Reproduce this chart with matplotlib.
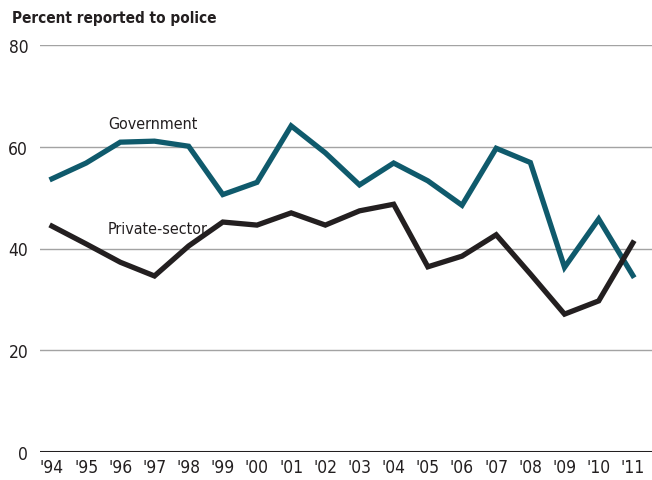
#!/usr/bin/env python3
"""Percent of incidents reported to police, government vs private-sector."""

import matplotlib
matplotlib.use("Agg")
import matplotlib.pyplot as plt

# Data
years = ["'94", "'95", "'96", "'97", "'98", "'99", "'00", "'01", "'02",
         "'03", "'04", "'05", "'06", "'07", "'08", "'09", "'10", "'11"]
government = [53.7, 56.8, 60.9, 61.1, 60.1, 50.6, 53.0, 64.1, 58.8,
              52.5, 56.8, 53.3, 48.5, 59.7, 56.9, 36.3, 45.8, 34.7]
private_sector = [44.4, 40.9, 37.3, 34.6, 40.5, 45.2, 44.6, 47.0, 44.6,
                  47.4, 48.7, 36.4, 38.5, 42.7, 35.0, 27.1, 29.7, 41.1]
y_ticks = [0, 20, 40, 60, 80]

GOV_COLOR = "#0f5a6c"
PRIV_COLOR = "#231f20"

plt.rcParams["font.family"] = ["DejaVu Sans"]
plt.rcParams["font.stretch"] = "condensed"

fig = plt.figure(figsize=(6.52, 4.81), dpi=100)
ax = fig.add_axes([40 / 652, 28 / 481, 612 / 652, 407 / 481])

x = list(range(len(years)))
ax.plot(x, government, color=GOV_COLOR, lw=3.8, solid_joinstyle="miter", zorder=3)
ax.plot(x, private_sector, color=PRIV_COLOR, lw=3.8, solid_joinstyle="miter", zorder=3)

ax.set_xlim(-0.35, 17.56)
ax.set_ylim(0, 80)

# Gridlines
for v in y_ticks[1:]:
    ax.axhline(v, color="#a3a3a3", lw=1.0, zorder=1)
ax.axhline(0, color="#231f20", lw=2.2, zorder=2)

for s in ax.spines.values():
    s.set_visible(False)

ax.set_yticks(y_ticks)
ax.set_yticklabels([str(v) for v in y_ticks])
ax.set_xticks(x)
ax.set_xticklabels(years)
ax.tick_params(axis="both", length=0, labelsize=12.5, colors="#231f20")
ax.tick_params(axis="y", pad=8.5)
ax.tick_params(axis="x", pad=4)

# Series labels
ax.text(1.65, 64.5, "Government", fontsize=11.5, color="#231f20", ha="left", va="center")
ax.text(1.62, 44.0, "Private-sector", fontsize=11.5, color="#231f20", ha="left", va="center")

# Title
fig.text(12 / 652, 1 - 18 / 481, "Percent reported to police", fontsize=11,
         fontweight="bold", color="#231f20", ha="left", va="center")

fig.savefig("out.png", dpi=100, facecolor="white")
